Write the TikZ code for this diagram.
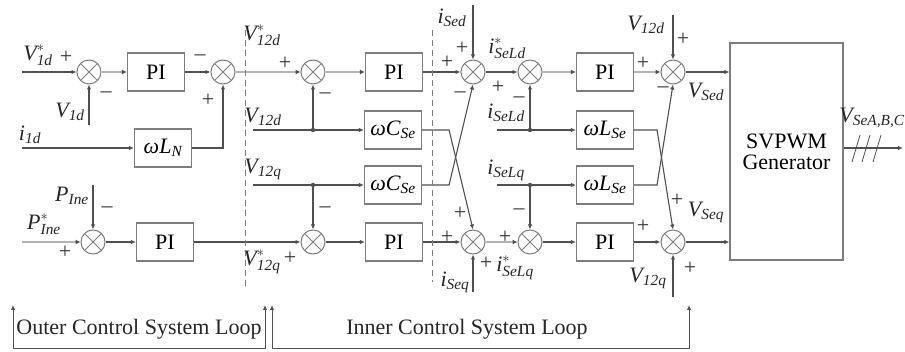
\documentclass[tikz,border=0pt]{standalone}
\usepackage{fontspec}
\usepackage{amsmath}
\setmainfont{LiberationSerif}[Extension=.ttf, UprightFont=*-Regular, ItalicFont=*-Italic, BoldFont=*-Bold, BoldItalicFont=*-BoldItalic]
\usetikzlibrary{arrows.meta, positioning, calc}
\definecolor{sigline}{RGB}{80,80,80}
\definecolor{boxline}{RGB}{125,125,125}
\definecolor{busline}{RGB}{180,180,180}
\newcommand{\sgl}[2]{$\textit{#1}_{\textit{#2}}$}
\newcommand{\sgls}[2]{$\textit{#1}^{*}_{\textit{#2}}$}

\begin{document}
\begin{tikzpicture}[x=1pt, y=-1pt, >={Latex[length=5pt, width=4.5pt]},
    font=\fontsize{22}{21}\selectfont,
    blk/.style={rectangle, draw=boxline, line width=1.1pt, minimum width=57pt, minimum height=38pt, inner sep=0pt},
    sum/.style={circle, draw=boxline, line width=1pt, minimum size=24pt, inner sep=0pt,
        path picture={\draw[boxline, line width=0.8pt]
            (path picture bounding box.north west) -- (path picture bounding box.south east)
            (path picture bounding box.north east) -- (path picture bounding box.south west);}},
    sig/.style={draw=sigline, line width=1.1pt},
    bus/.style={draw=busline, line width=2.6pt, -{Latex[length=5pt, width=5pt, color=sigline]}},
    split/.style={circle, fill=sigline, inner sep=0pt, minimum size=4.5pt},
    sgn/.style={inner sep=0pt, text=black!80},
    lab/.style={inner sep=0pt, text=black!85},
    divider/.style={draw=boxline, line width=0.8pt, dash pattern=on 6pt off 4pt},
    loopline/.style={draw=sigline, line width=1pt}
]
\useasboundingbox (0,0) rectangle (905,352);

% === Lazo externo: eje d ===
\node[sum] (s1) at (89,72) {};
\node[blk] (pi1) at (156,72) {PI};
\node[sum] (s2) at (223,72) {};
\node[blk] (wln) at (163,148) {\sgl{ωL}{N}};
\coordinate (v1ds) at (22,72);
\coordinate (v1d) at (89,125);
\coordinate (i1d) at (22,148);

\draw[sig,->] (v1ds) -- (s1.west);
\draw[sig,->] (v1d) -- (s1.south);
\draw[bus] (s1.east) -- (pi1.west);
\draw[sig,->] (pi1.east) -- (s2.west);
\draw[sig,->] (i1d) -- (wln.west);
\draw[sig,->] (wln.east) -| (s2.south);

\node[lab] at (38,55) {\sgls{V}{1d}};
\node[sgn] at (66,57) {+};
\node[lab] at (70,112) {\sgl{V}{1d}};
\node[sgn] at (106,95) {--};
\node[lab] at (30,135) {\sgl{i}{1d}};
\node[sgn] at (200,58) {--};
\node[sgn] at (208,100) {+};

% === Lazo externo: eje q ===
\node[sum] (s0q) at (93,242) {};
\node[blk] (pi0q) at (165,242) {PI};
\coordinate (pls) at (22,242);
\coordinate (pl) at (93,185);

\draw[bus] (pls) -- (s0q.west);
\draw[sig,->] (pl) -- (s0q.north);
\draw[sig,->] (s0q.east) -- (pi0q.west);

\node[lab] at (72,196) {\sgl{P}{Ine}};
\node[lab] at (44,224) {\sgls{P}{Ine}};
\node[sgn] at (107,210) {--};
\node[sgn] at (65,252) {+};

% === Lazo interno: tensiones ===
\node[sum] (s3) at (313,72) {};
\node[blk] (pi2) at (394,72) {PI};
\node[blk] (wc1) at (393,130) {\sgl{ωC}{Se}};
\node[blk] (wc2) at (393,185) {\sgl{ωC}{Se}};
\node[sum] (s3q) at (313,242) {};
\node[blk] (pi2q) at (394,242) {PI};
\node[split] (j1) at (313,130) {};
\node[split] (j2) at (313,185) {};
\coordinate (v12d) at (253,130);
\coordinate (v12q) at (253,185);

\draw[bus] (s2.east) -- (s3.west);
\draw[bus] (s3.east) -- (pi2.west);
\draw[sig,->] (v12d) -- (wc1.west);
\draw[sig,->] (j1) -- (s3.south);
\draw[sig,->] (v12q) -- (wc2.west);
\draw[sig,->] (j2) -- (s3q.north);
\draw[sig,->] (pi0q.east) -- (s3q.west);
\draw[sig,->] (s3q.east) -- (pi2q.west);

\node[lab] at (262,35) {\sgls{V}{12d}};
\node[sgn] at (285,63) {+};
\node[sgn] at (325,96) {--};
\node[lab] at (263,117) {\sgl{V}{12d}};
\node[lab] at (263,169) {\sgl{V}{12q}};
\node[sgn] at (325,210) {--};
\node[lab] at (262,262) {\sgls{V}{12q}};
\node[sgn] at (290,258) {+};

% === Lazo interno: corrientes ===
\node[sum] (s4) at (473,72) {};
\node[sum] (s5) at (530,72) {};
\node[blk] (pi3) at (605,72) {PI};
\node[blk] (wl1) at (605,130) {\sgl{ωL}{Se}};
\node[blk] (wl2) at (605,185) {\sgl{ωL}{Se}};
\node[sum] (s4q) at (473,242) {};
\node[sum] (s5q) at (530,242) {};
\node[blk] (pi3q) at (605,242) {PI};
\node[split] (j3) at (530,130) {};
\node[split] (j4) at (530,185) {};
\coordinate (isd) at (473,5);
\coordinate (isq) at (473,292);
\coordinate (isld) at (497,130);
\coordinate (islq) at (497,185);

\draw[sig,->] (pi2.east) -- (s4.west);
\draw[sig,->] (pi2q.east) -- (s4q.west);
\draw[sig,->] (wc1.east) -- ++(27,0) -- (s4q.north);
\draw[sig,->] (wc2.east) -- ++(27,0) -- (s4.south);
\draw[sig,->] (isd) -- (s4.north);
\draw[sig,->] (isq) -- (s4q.south);
\draw[sig,->] (s4.east) -- (s5.west);
\draw[bus] (s4q.east) -- (s5q.west);
\draw[sig,->] (isld) -- (wl1.west);
\draw[sig,->] (j3) -- (s5.south);
\draw[sig,->] (islq) -- (wl2.west);
\draw[sig,->] (j4) -- (s5q.north);
\draw[bus] (s5.east) -- (pi3.west);
\draw[sig,->] (s5q.east) -- (pi3q.west);

\node[sgn] at (447,62) {+};
\node[sgn] at (447,237) {+};
\node[lab] at (452,18) {\sgl{i}{Sed}};
\node[sgn] at (462,48) {+};
\node[sgn] at (460,95) {--};
\node[lab] at (507,48) {\sgls{i}{SeLd}};
\node[sgn] at (498,87) {+};
\node[sgn] at (519,100) {--};
\node[lab] at (506,113) {\sgl{i}{SeLd}};
\node[lab] at (506,170) {\sgl{i}{SeLq}};
\node[sgn] at (519,212) {--};
\node[sgn] at (460,213) {+};
\node[sgn] at (505,237) {+};
\node[lab] at (455,282) {\sgl{i}{Seq}};
\node[sgn] at (486,263) {+};
\node[lab] at (515,268) {\sgls{i}{SeLq}};

% === Desacople y SVPWM ===
\node[sum] (s6) at (673,72) {};
\node[sum] (s6q) at (673,242) {};
\node[blk, minimum width=113pt, minimum height=217pt, align=center] (svm) at (786.5,151.5) {SVPWM\\Generator};
\coordinate (v12dt) at (673,15);
\coordinate (v12qb) at (673,297);
\coordinate (vout) at (903,148);

\draw[bus] (pi3.east) -- (s6.west);
\draw[sig,->] (pi3q.east) -- (s6q.west);
\draw[sig,->] (wl1.east) -- ++(23,0) -- (s6q.north);
\draw[sig,->] (wl2.east) -- ++(23,0) -- (s6.south);
\draw[sig,->] (v12dt) -- (s6.north);
\draw[sig,->] (v12qb) -- (s6q.south);
\draw[sig,->] (s6.east) -- (s6.east -| svm.west);
\draw[sig,->] (s6q.east) -- (s6q.east -| svm.west);
\draw[sig,->] (svm.east |- vout) -- (vout);
\foreach \x in {856,866,877} {
    \draw[sig, line width=0.8pt] (\x-4,162) -- (\x+4,135);
}

\node[sgn] at (643,63) {+};
\node[sgn] at (643,226) {+};
\node[lab] at (646,25) {\sgl{V}{12d}};
\node[sgn] at (683,39) {+};
\node[sgn] at (663,90) {--};
\node[lab] at (706,92) {\sgl{V}{Sed}};
\node[sgn] at (677,200) {+};
\node[lab] at (706,212) {\sgl{V}{Seq}};
\node[lab] at (648,278) {\sgl{V}{12q}};
\node[sgn] at (690,268) {+};
\node[lab] at (872,118) {\sgl{V}{SeA,B,C}};

% === Separadores y lazos ===
\draw[divider] (245,30) -- (245,290);
\draw[divider] (432,30) -- (432,282);

\coordinate (o1) at (13,305);
\coordinate (o2) at (265,305);
\coordinate (n1) at (272,305);
\coordinate (n2) at (689,305);
\draw[loopline,<->] (o1) -- ++(0,44) -| (o2);
\draw[loopline,<->] (n1) -- ++(0,44) -| (n2);
\node[lab] (outer) at (139,329) {Outer Control System Loop};
\node[lab] (inner) at (467,329) {Inner Control System Loop};

\end{tikzpicture}
\end{document}
